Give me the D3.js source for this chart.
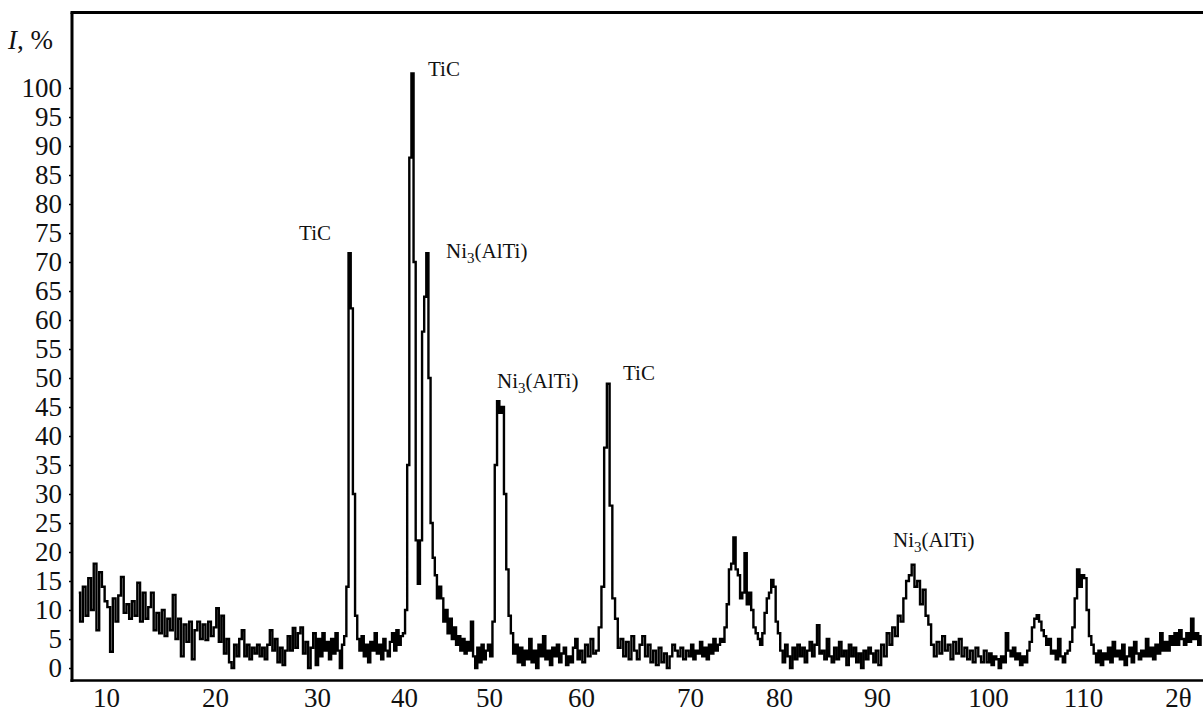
<!DOCTYPE html>
<html><head><meta charset="utf-8">
<script src="https://cdn.jsdelivr.net/npm/d3@7"></script>
<style>
html,body{margin:0;padding:0;background:#fff;}
svg{display:block;}
</style></head>
<body><svg id="chart" width="1203" height="714"></svg>
<script>
// ---------- DATA ----------
const angleStep = 0.25;                 // 2θ sampling step (degrees)
const segmentStart = [7.5, 10, 20, 30, 40, 50, 60, 70, 80, 90, 100, 110];
const segmentIntensity = [
  [13, 8, 14, 9, 15.5, 10, 18, 6.5, 16.5, 14],
  [11.5, 10.5, 2.8, 12, 8, 12.5, 15.7, 9.5, 11, 8.5, 11.5, 9, 14.7, 8, 13, 8.5, 10.5, 13, 6.5, 9.5,
   6, 10, 5.5, 8.5, 6.5, 12.6, 5, 8.5, 2, 7.5, 4.5, 8, 1.5, 6.5, 8, 5, 7.5, 4.8, 8, 5.5],
  [7, 10.3, 4.5, 9, 2.5, 5, 1, 0, 4, 2, 5, 6.5, 2, 4, 1.5, 3.5, 2.5, 4, 2, 3.5,
   1.5, 4, 6.5, 3, 5, 1, 3.5, 0.5, 3, 5.5, 3, 6.9, 3.5, 6, 7, 2.5, 4.5, 0, 3.5, 6],
  [0.5, 5, 2, 6, 3, 4.5, 1.5, 5, 2.5, 6, 3, 0, 4, 5.5, 14, 71.5, 62, 30, 9, 5,
   3, 5.5, 2, 4, 1, 4.5, 3, 6, 2.5, 4, 1.5, 5, 3, 2, 4.5, 6, 3, 6.5, 4, 5.5],
  [6, 10, 35, 88, 102.5, 70, 22, 14.5, 22, 58, 64, 71.5, 50, 25, 19, 16, 12, 14, 12, 8,
   10, 6, 8.5, 5, 7, 4, 5.5, 3, 5, 2.5, 4.5, 3, 8, 2, 0, 3.5, 1, 4, 1.5, 3],
  [4, 2, 8, 35, 46, 44, 45, 30, 17, 9, 6, 2.5, 4, 1, 3.5, 0.5, 3, 1.5, 5, 1,
   3, 0, 4, 2, 5.5, 1.5, 3, 0.5, 3.5, 2, 4, 1, 2.5, 3.5, 0.5, 2, 1, 3.5, 5, 1.5],
  [3, 1, 4, 2, 5, 2.5, 3, 7, 14, 38, 49, 28, 12, 8.5, 3.5, 5, 2, 4.5, 1.5, 5.5,
   3, 1.5, 4, 5.5, 2, 4, 1, 3, 0.5, 3.5, 1, 2.5, 0, 2, 4, 3, 2, 3.5, 1.5, 3],
  [2, 4, 1.5, 3, 2.5, 4.5, 2, 3.5, 1.5, 4, 2.5, 5, 3, 4, 5, 4.5, 7, 11, 17, 18,
   22.5, 17, 16, 12, 13, 19.8, 11, 13, 10, 7, 6, 5, 4, 6, 9.5, 12, 13, 15.2, 14, 8],
  [6, 3, 1, 4, 2, 0, 3.5, 1.5, 4, 2, 3.5, 1, 3, 4.5, 2, 4, 7.4, 2.5, 3, 1.5,
   5, 2, 1, 3.5, 1.5, 4.5, 2, 3, 0.5, 4, 2, 3.5, 1, 2.5, 0, 3, 1.5, 3.5, 2.5, 1],
  [3, 0.5, 4, 2, 6, 4, 7, 5.5, 9, 8, 12, 15, 16, 17.8, 14, 15, 11, 13.5, 9, 7.5,
   4, 2, 4.5, 2.5, 5.5, 3, 4, 1.5, 4.5, 2.5, 5, 2, 3.5, 1.5, 3, 1, 3.5, 2, 1, 3],
  [1, 2.5, 0.5, 2, 1.5, 0, 2, 1, 6, 3, 2, 3.5, 1.5, 2.5, 0.5, 2, 1, 3, 4.5, 7,
   8.5, 9.1, 8, 6.5, 5.5, 4, 5, 2.5, 3, 1.5, 5, 2, 1, 2.5, 3, 4.5, 7, 12, 17, 14],
  [16, 15.5, 10, 5.5, 4, 2.5, 1, 3, 0.5, 2.5, 1.5, 3.5, 1, 4.5, 2, 3, 1.5, 4, 0.5, 2,
   3.5, 1, 4.5, 2.5, 1.5, 3, 2, 5, 2, 3.5, 1.5, 4, 2.5, 6, 3, 4.5, 3, 5.5, 4, 6,
   4, 6.5, 5, 4, 6, 4.5, 8.5, 5, 6, 4, 5.5]
];

const xTickValues = [10, 20, 30, 40, 50, 60, 70, 80, 90, 100, 110, 120];
const xTickLabels = ["10", "20", "30", "40", "50", "60", "70", "80", "90", "100", "110", "2θ"];
const yTickValues = [0, 5, 10, 15, 20, 25, 30, 35, 40, 45, 50, 55, 60, 65, 70, 75, 80, 85, 90, 95, 100];

const peakNames = ["TiC", "TiC", "Ni3(AlTi)", "Ni3(AlTi)", "TiC", "Ni3(AlTi)"];
const peakLabelAngle = [28.24, 42.82, 44.94, 50.87, 63.85, 91.44];
const peakLabelLevel = [73.8, 102.1, 70.7, 48.3, 49.7, 20.9];

// ---------- SCALES ----------
const svg = d3.select("#chart");
const W = 1203, H = 714;
const axisLeftX = 72, axisBottomY = 680.5, frameTopY = 12.5;

// The printed axis is not uniformly spaced; piecewise-linear mapping through the tick positions
const x = d3.scaleLinear()
  .domain([7, 10, 20, 30, 40, 50, 60, 70, 80, 90, 100, 110, 122.63])
  .range([73.3, 106, 215, 317, 404, 489, 581, 690, 779, 877, 988, 1083, 1203]);
const y = d3.scaleLinear().domain([0, 100]).range([668, 88]);

const points = [];
segmentStart.forEach((s, k) => {
  segmentIntensity[k].forEach((v, i) => points.push({angle: s + i * angleStep, value: v}));
});

const fontFam = "'Liberation Serif','Times New Roman',serif";

// ---------- TRACE ----------
const line = d3.line().x(d => x(d.angle)).y(d => y(d.value)).curve(d3.curveStep);
svg.append("path").datum(points)
  .attr("d", line).attr("fill", "none").attr("stroke", "#000")
  .attr("stroke-width", 2.4).attr("stroke-linejoin", "miter");

// ---------- AXES ----------
const yAxis = d3.axisLeft(y).tickValues(yTickValues).tickSize(3).tickPadding(7).tickFormat(d3.format("d"));
const gy = svg.append("g").attr("transform", `translate(${axisLeftX},0)`).call(yAxis);
gy.select(".domain").remove();
gy.selectAll("text").attr("font-family", fontFam).attr("font-size", 27).attr("fill", "#111");
gy.selectAll("line").attr("stroke", "#000").attr("stroke-width", 1.5);

const xAxis = d3.axisBottom(x).tickValues(xTickValues).tickSize(0).tickPadding(7)
  .tickFormat((d, i) => xTickLabels[i]);
const gx = svg.append("g").attr("transform", `translate(0,${axisBottomY})`).call(xAxis);
gx.select(".domain").remove();
gx.selectAll("text").attr("font-family", fontFam).attr("font-size", 27).attr("fill", "#111");

// frame lines
svg.append("line").attr("x1", axisLeftX).attr("x2", axisLeftX).attr("y1", frameTopY).attr("y2", axisBottomY + 1.5)
  .attr("stroke", "#000").attr("stroke-width", 3);
svg.append("line").attr("x1", axisLeftX - 1.5).attr("x2", W).attr("y1", axisBottomY).attr("y2", axisBottomY)
  .attr("stroke", "#000").attr("stroke-width", 2.5);
svg.append("line").attr("x1", axisLeftX - 1.5).attr("x2", W).attr("y1", frameTopY).attr("y2", frameTopY)
  .attr("stroke", "#000").attr("stroke-width", 3);

// y-axis title
const yt = svg.append("text").attr("x", 8).attr("y", 49)
  .attr("font-family", fontFam).attr("font-size", 27).attr("fill", "#111");
yt.append("tspan").attr("font-style", "italic").text("I");
yt.append("tspan").text(", %");

// ---------- PEAK LABELS ----------
peakNames.forEach((name, i) => {
  const t = svg.append("text")
    .attr("x", x(peakLabelAngle[i])).attr("y", y(peakLabelLevel[i]))
    .attr("font-family", fontFam).attr("font-size", 21).attr("fill", "#111");
  const m = name.match(/^([A-Za-z]+)(\d)(\(.*\))$/);
  if (m) {
    t.append("tspan").text(m[1]);
    t.append("tspan").attr("font-size", 15).attr("dy", 5).text(m[2]);
    t.append("tspan").attr("dy", -5).text(m[3]);
  } else {
    t.text(name);
  }
});
</script>
</body></html>
